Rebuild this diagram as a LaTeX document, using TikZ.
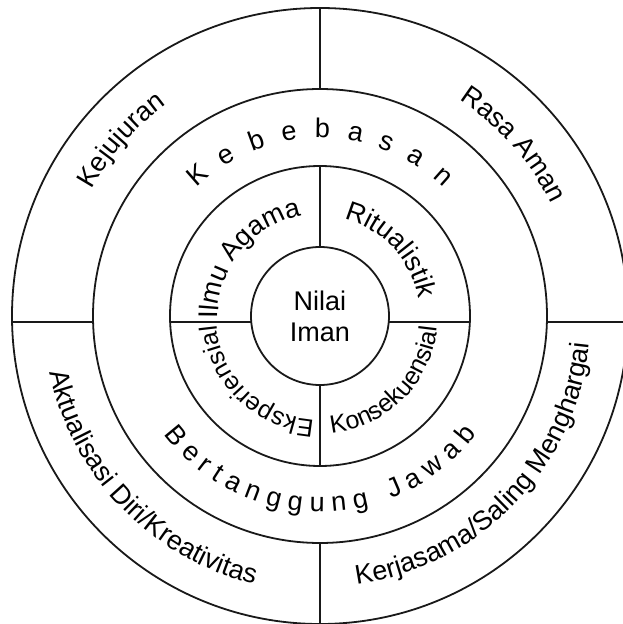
\documentclass[tikz,border=0pt]{standalone}
\usepackage{fontspec}
\setmainfont{Liberation Sans}
\usetikzlibrary{decorations.text}

\newcommand{\ringfont}{\fontsize{27}{31}\selectfont}
\newcommand{\smallring}{\fontsize{25}{29}\selectfont}

\tikzset{
  ring/.style={line width=1.8pt, draw=black!90},
  ringlabel/.style={decorate, decoration={text along path, text align=center, text={#1}}},
  spreadlabel/.style={decorate, decoration={text along path, text align=fit to path, text={#1}}},
}

\begin{document}
\begin{tikzpicture}[x=1pt, y=1pt]
\useasboundingbox[fill=white] (-320,-308) rectangle (303,316);

% Rings
\draw[ring] (0,0) circle (150);
\draw[ring] (0,0) circle (227);
\draw[ring] (0,0) circle (308);
\node[ring, circle, minimum size=138, inner sep=0pt, align=center, font=\ringfont] (iman) at (0,0) {Nilai\\Iman};

% Ends of the dividing lines
\coordinate (outtop) at (90:308);   \coordinate (midtop) at (90:227);
\coordinate (intop) at (90:150);
\coordinate (outbot) at (270:308);  \coordinate (midbot) at (270:227);
\coordinate (inbot) at (270:150);
\coordinate (outleft) at (-307.9,-6);  \coordinate (midleft) at (-226.9,-6);
\coordinate (inleft) at (-149.9,-6);   \coordinate (imanleft) at (-68.7,-6);
\coordinate (outright) at (307.9,-6);  \coordinate (midright) at (226.9,-6);
\coordinate (inright) at (149.9,-6);   \coordinate (imanright) at (68.7,-6);

% Dividing lines, outer ring and inner ring only
\draw[ring] (midtop) -- (outtop);
\draw[ring] (iman.north) -- (intop);
\draw[ring] (midbot) -- (outbot);
\draw[ring] (iman.south) -- (inbot);
\draw[ring] (midleft) -- (outleft);
\draw[ring] (imanleft) -- (inleft);
\draw[ring] (midright) -- (outright);
\draw[ring] (imanright) -- (inright);

% Outer ring
\path[ringlabel={|\ringfont|Kejujuran}] (168.5:261) arc[start angle=168.5, end angle=108.5, radius=261];
\path[ringlabel={|\ringfont|Rasa Aman}] (71.5:257) arc[start angle=71.5, end angle=11.5, radius=257];
\path[ringlabel={|\ringfont|Aktualisasi Diri/Kreativitas}] (179:276) arc[start angle=179, end angle=269, radius=276];
\path[ringlabel={|\ringfont|Kerjasama/Saling Menghargai}] (266:271) arc[start angle=266, end angle=366, radius=271];

% Middle ring
\path[spreadlabel={|\ringfont|Kebebasan}] (134:178) arc[start angle=134, end angle=46, radius=178];
\path[spreadlabel={|\ringfont|Bertanggung Jawab}] (217:196) arc[start angle=217, end angle=323, radius=196];

% Inner ring
\path[ringlabel={|\ringfont|Ilmu Agama}] (191:102) arc[start angle=191, end angle=91, radius=102];
\path[ringlabel={|\ringfont|Ritualistik}] (88:100) arc[start angle=88, end angle=-2, radius=100];
\path[ringlabel={|\smallring|Eksperiensial}] (276:104) arc[start angle=276, end angle=176, radius=104];
\path[ringlabel={|\smallring|Konsekuensial}] (265:118) arc[start angle=265, end angle=365, radius=118];
\end{tikzpicture}
\end{document}
